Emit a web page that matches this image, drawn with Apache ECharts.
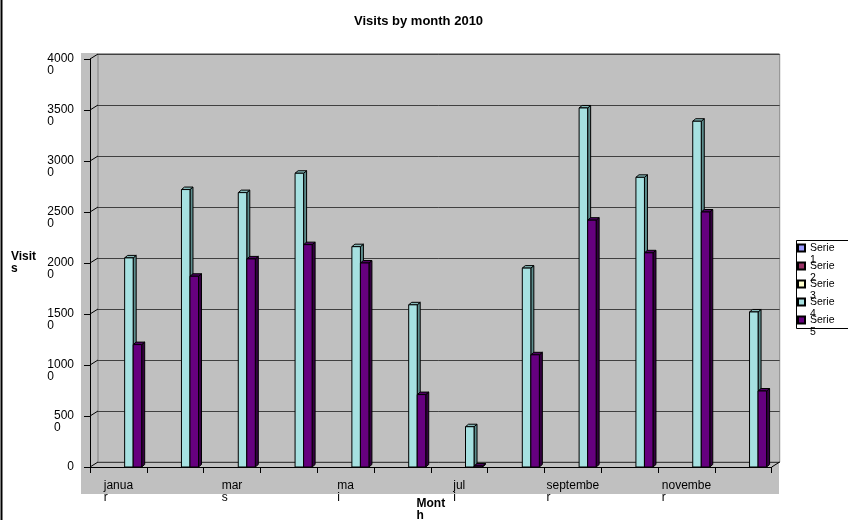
<!DOCTYPE html>
<html>
<head>
<meta charset="utf-8">
<script src="https://cdn.jsdelivr.net/npm/echarts@6/dist/echarts.min.js"></script>
<style>
html,body{margin:0;padding:0;background:#fff;}
#chart{width:848px;height:520px;}
</style>
</head>
<body>
<div id="chart"></div>
<script>
// ---------- data ----------
var titleText = 'Visits by month 2010';
var months = ['januar', 'februar', 'mars', 'april', 'mai', 'juni', 'juli', 'august', 'september', 'oktober', 'november', 'desember'];
var xTickLabels = ['janua\nr', '', 'mar\ns', '', 'ma\ni', '', 'jul\ni', '', 'septembe\nr', '', 'novembe\nr', ''];
var yTicks = [0, 5000, 10000, 15000, 20000, 25000, 30000, 35000, 40000];
var yTickLabels = ['0', '500\n0', '1000\n0', '1500\n0', '2000\n0', '2500\n0', '3000\n0', '3500\n0', '4000\n0'];
var xAxisName = 'Mont\nh';
var yAxisName = 'Visit\ns';
var seriesNames = ['Serie 1', 'Serie 2', 'Serie 3', 'Serie 4', 'Serie 5'];
var serie1 = [];
var serie2 = [];
var serie3 = [];
var serie4 = [20500, 27200, 26900, 28800, 21600, 15900, 3950, 19500, 35200, 28400, 33900, 15200];
var serie5 = [12000, 18700, 20400, 21800, 20000, 7100, 100, 11000, 24200, 21000, 25000, 7450];

// ---------- styles ----------
var FONT = "'Liberation Sans', Arial, sans-serif";
var legendColors = ['#9999ff', '#993366', '#ffffcc', '#a6e1e1', '#66007f'];
var faceColors = [
  null, null, null,
  {front: '#a6e1e1', top: '#86b9b9', side: '#5d8d8d'},
  {front: '#66007f', top: '#4e0062', side: '#340040'}
];
var WALL = {dx: 8, dy: -5};        // back-wall depth offset
var BAR = {dx: 3, dy: -2.5};       // bar depth
var BAR_FRAC = 0.15;               // bar width / category band
var SHIFT_FRAC = 0.035;
var G = {left: 90, top: 59, width: 681.7, height: 408};

function splitRich(s, cls) {
  return s.split('\n').map(function (p) { return '{' + cls + '|' + p + '}'; }).join('\n');
}

function barRenderer(slot) {
  var fc = faceColors[slot];
  return function (params, api) {
    var idx = api.value(0), val = api.value(1);
    var base = api.coord([idx, 0]);
    var top = api.coord([idx, val]);
    var band = api.size([1, 0])[0];
    var w = band * BAR_FRAC;
    var x0 = base[0] - band * BAR_FRAC * 5 / 2 + slot * w + band * SHIFT_FRAC;
    var x1 = x0 + w, yb = base[1], yt = top[1];
    var dx = BAR.dx, dy = BAR.dy;
    var st = {stroke: '#000', lineWidth: 1};
    return {
      type: 'group',
      children: [
        {type: 'polygon', shape: {points: [[x1, yb], [x1 + dx, yb + dy], [x1 + dx, yt + dy], [x1, yt]]},
          style: Object.assign({fill: fc.side}, st)},
        {type: 'polygon', shape: {points: [[x0, yt], [x0 + dx, yt + dy], [x1 + dx, yt + dy], [x1, yt]]},
          style: Object.assign({fill: fc.top}, st)},
        {type: 'rect', shape: {x: x0, y: yt, width: w, height: yb - yt},
          style: Object.assign({fill: fc.front}, st)}
      ]
    };
  };
}

function decorRenderer(params, api) {
  var cs = params.coordSys;
  var val = api.value(1);
  var y = api.coord([0, val])[1];
  var children = [
    {type: 'line', shape: {x1: cs.x, y1: y, x2: cs.x + WALL.dx, y2: y + WALL.dy},
      style: {stroke: '#000', lineWidth: 1}}
  ];
  if (val === 0) {
    children.push({type: 'line', shape: {x1: cs.x + cs.width, y1: y, x2: cs.x + cs.width + WALL.dx, y2: y + WALL.dy},
      style: {stroke: '#000', lineWidth: 1}});
  }
  return {type: 'group', children: children};
}

var allData = [serie1, serie2, serie3, serie4, serie5];
var series = seriesNames.map(function (name, s) {
  return {
    type: 'custom',
    name: name,
    xAxisIndex: 0,
    yAxisIndex: 0,
    z: 3,
    itemStyle: {color: legendColors[s], borderColor: '#000', borderWidth: 1},
    renderItem: faceColors[s] ? barRenderer(s) : function () { return null; },
    encode: {x: 0, y: 1},
    data: allData[s].map(function (v, i) { return [i, v]; })
  };
});
series.push({
  type: 'custom',
  name: 'decor',
  silent: true,
  xAxisIndex: 0,
  yAxisIndex: 0,
  z: 2,
  renderItem: decorRenderer,
  encode: {x: 0, y: 1},
  data: yTicks.map(function (v) { return [0, v]; })
});

var labelRich = {a: {fontFamily: FONT, fontSize: 12, lineHeight: 12, color: '#000', align: 'left'},
                 e: {fontFamily: FONT, fontSize: 12, lineHeight: 12, align: 'left'}};
var nameRich = {a: {fontFamily: FONT, fontSize: 12, lineHeight: 12, fontWeight: 'bold', color: '#000', align: 'left'}};

var option = {
  animation: false,
  backgroundColor: '#fff',
  title: {
    text: titleText,
    left: 349,
    top: 9,
    textStyle: {fontFamily: FONT, fontSize: 13, fontWeight: 'bold', color: '#000', lineHeight: 15}
  },
  legend: {
    orient: 'vertical',
    left: 797,
    top: 230,
    padding: 0,
    itemGap: -18,
    itemWidth: 7,
    itemHeight: 7,
    icon: 'rect',
    z: 5,
    data: seriesNames,
    formatter: function (name) { return '\n' + name.replace(' ', '\n'); },
    textStyle: {fontFamily: FONT, fontSize: 10.5, lineHeight: 12, color: '#000'}
  },
  graphic: [
    {type: 'rect', z: -1, silent: true, shape: {x: 81, y: 53, width: 698, height: 441}, style: {fill: '#c0c0c0'}},
    {type: 'rect', z: 1, silent: true, shape: {x: 796.5, y: 240.5, width: 60, height: 88}, style: {fill: '#fff', stroke: '#000', lineWidth: 1}},
    {type: 'line', z: 1, silent: true, shape: {x1: 1.5, y1: 0, x2: 1.5, y2: 520}, style: {stroke: '#000', lineWidth: 2}}
  ],
  grid: [
    {left: G.left, top: G.top, width: G.width, height: G.height, containLabel: false, outerBoundsMode: 'none'},
    {left: G.left + WALL.dx, top: G.top + WALL.dy, width: G.width, height: G.height, outerBoundsMode: 'none',
      show: true, borderColor: '#808080', borderWidth: 1, backgroundColor: 'transparent'}
  ],
  xAxis: [
    {
      gridIndex: 0, type: 'category', data: months, boundaryGap: true,
      axisLine: {show: true, lineStyle: {color: '#000', width: 1}},
      axisTick: {show: true, interval: 0, length: 6, lineStyle: {color: '#000'}},
      axisLabel: {
        interval: 0, margin: 13,
        formatter: function (v, i) { return xTickLabels[i] ? splitRich(xTickLabels[i], 'a') : ''; },
        rich: labelRich
      },
      splitLine: {show: false},
      name: splitRich(xAxisName, 'a'), nameLocation: 'middle', nameGap: 31, nameMoveOverlap: false,
      nameTextStyle: {rich: nameRich, fontFamily: FONT, fontSize: 12, fontWeight: 'bold'}
    },
    {
      gridIndex: 1, type: 'category', data: months, boundaryGap: true,
      axisLine: {show: false}, axisTick: {show: false}, axisLabel: {show: false}, splitLine: {show: false}
    }
  ],
  yAxis: [
    {
      gridIndex: 0, type: 'value', min: 0, max: 40000, interval: 5000,
      axisLine: {show: true, lineStyle: {color: '#000', width: 1}},
      axisTick: {show: true, length: 6, lineStyle: {color: '#000'}},
      axisLabel: {
        margin: 16,
        formatter: function (v) {
          var i = yTicks.indexOf(v);
          var s = i >= 0 ? yTickLabels[i] : String(v);
          if (s.indexOf('\n') < 0) return splitRich(s, 'a');
          return '{e| }\n' + splitRich(s, 'a');
        },
        rich: labelRich
      },
      splitLine: {show: false},
      name: splitRich(yAxisName, 'a'), nameLocation: 'middle', nameGap: 54, nameRotate: 0, nameMoveOverlap: false,
      nameTextStyle: {rich: nameRich, fontFamily: FONT, fontSize: 12, fontWeight: 'bold'}
    },
    {
      gridIndex: 1, type: 'value', min: 0, max: 40000, interval: 5000,
      axisLine: {show: false}, axisTick: {show: false}, axisLabel: {show: false},
      splitLine: {show: true, lineStyle: {color: '#404040', width: 1}}
    }
  ],
  series: series
};

var chart = echarts.init(document.getElementById('chart'), null, {renderer: 'canvas'});
chart.setOption(option);
</script>
</body>
</html>
